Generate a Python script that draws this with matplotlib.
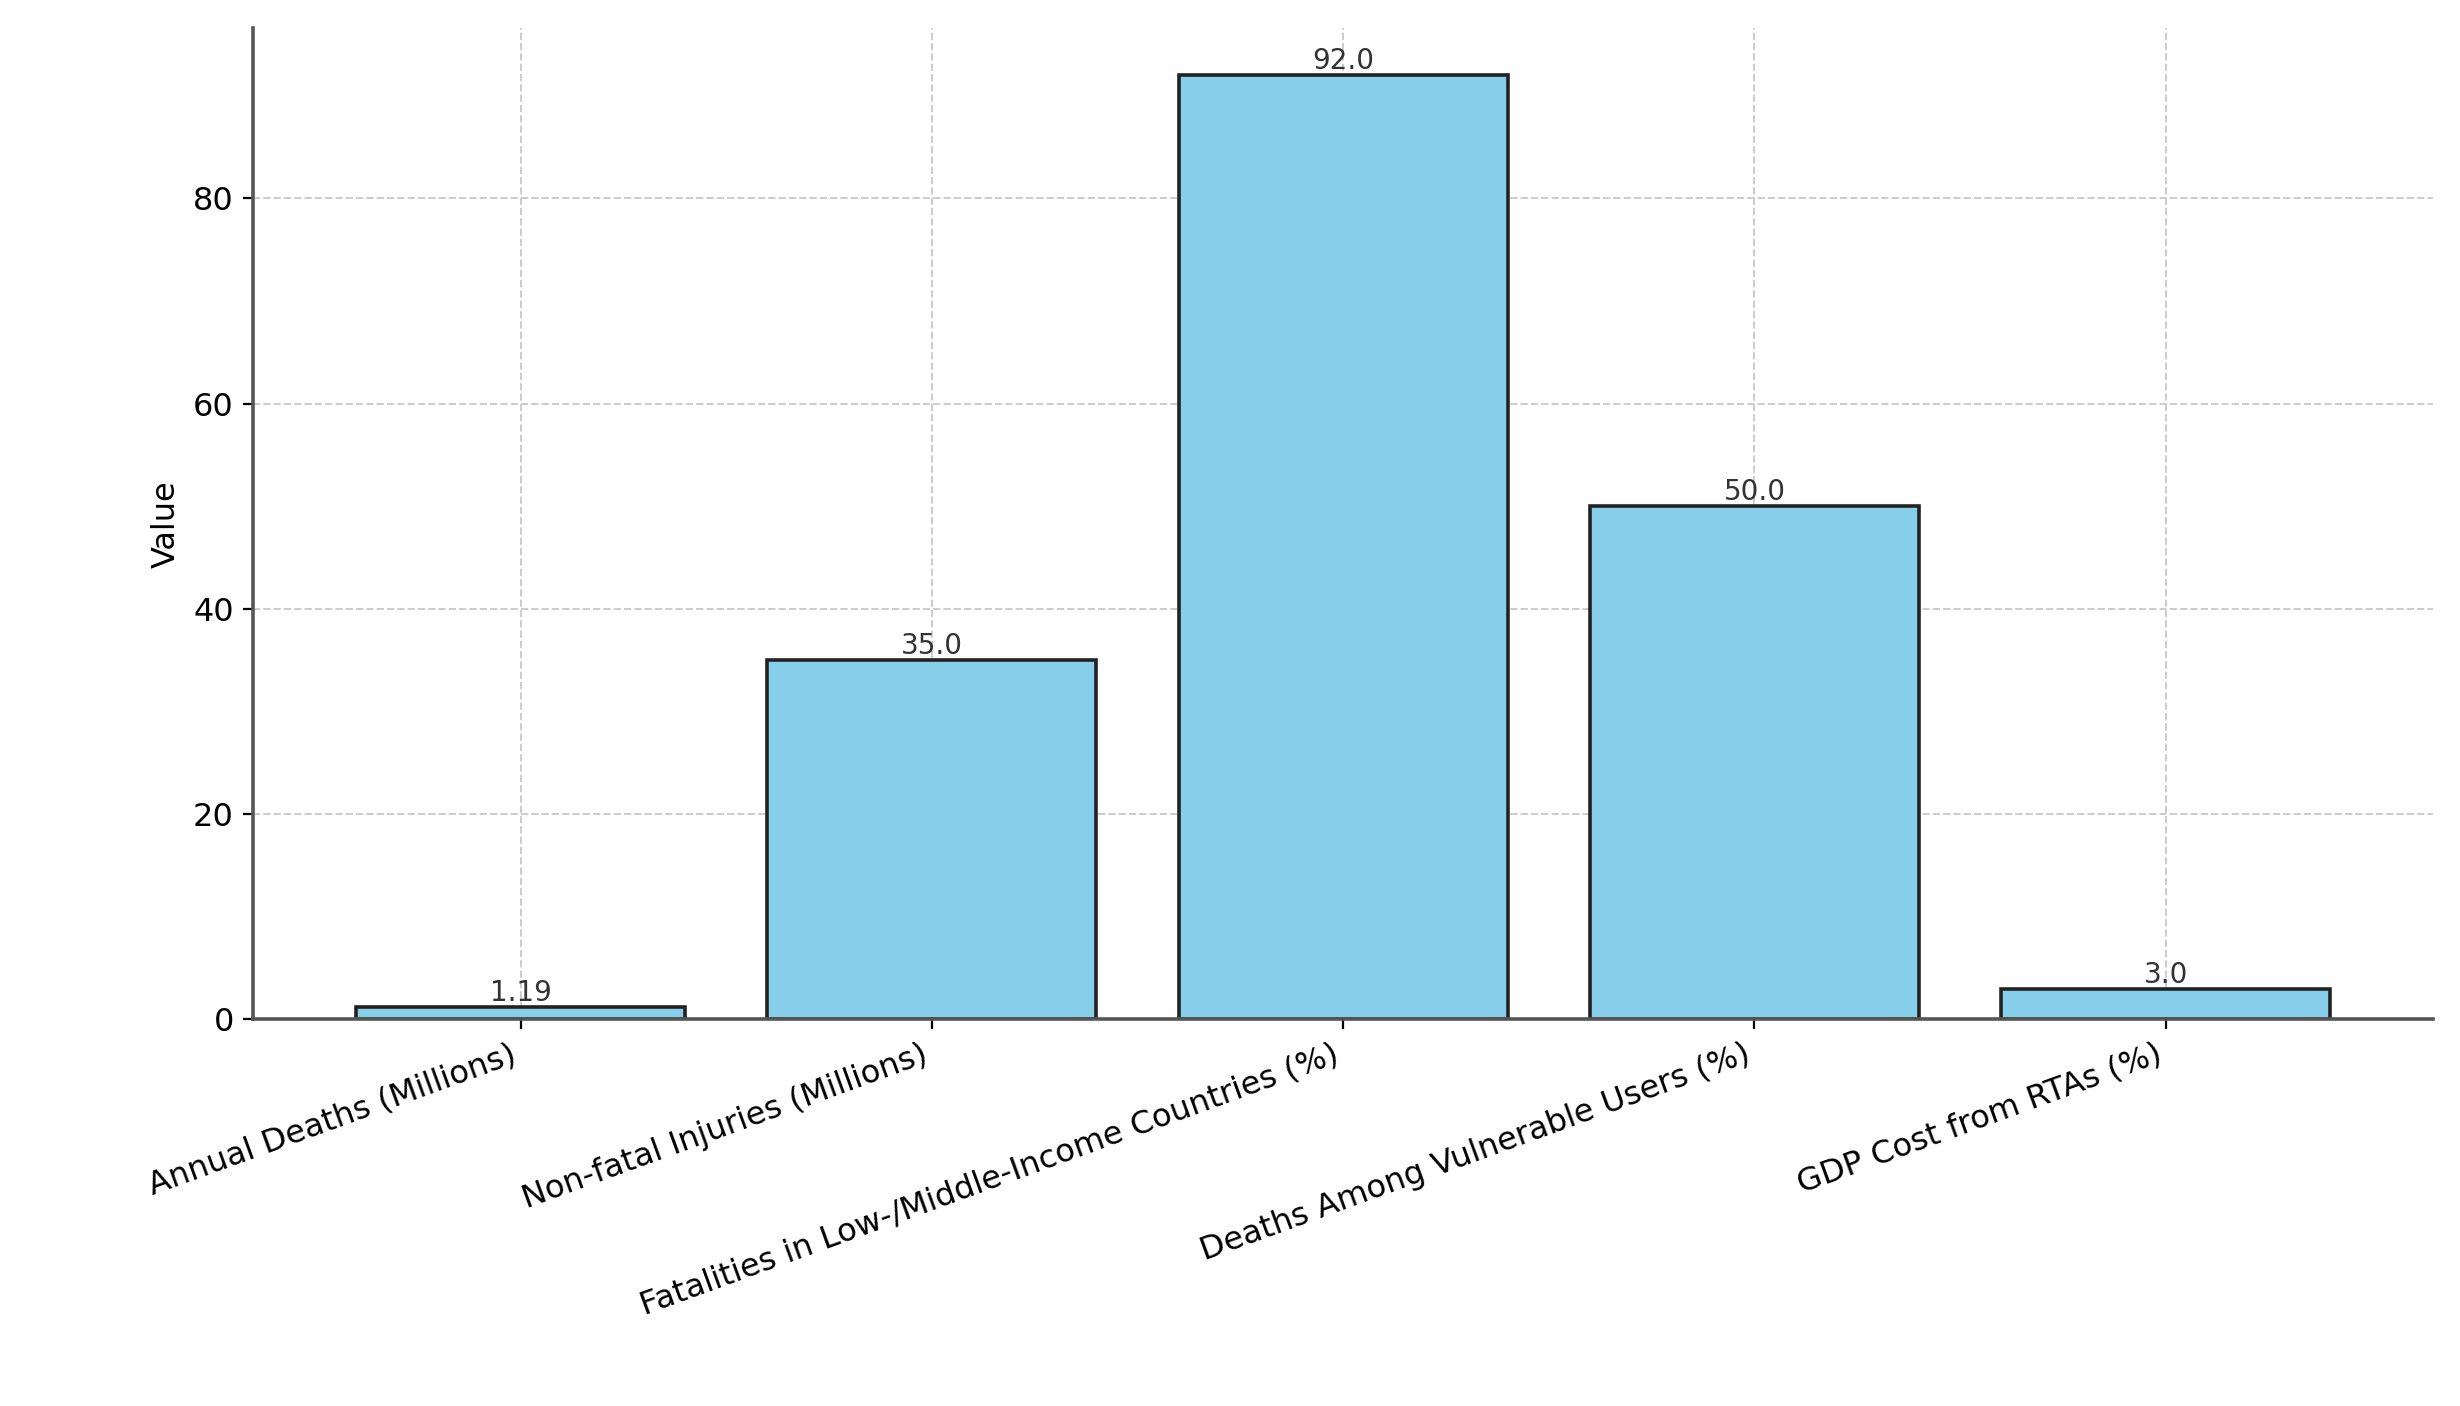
import matplotlib
matplotlib.use("Agg")
import matplotlib.pyplot as plt

categories = ["Annual Deaths (Millions)", "Non-fatal Injuries (Millions)",
              "Fatalities in Low-/Middle-Income Countries (%)",
              "Deaths Among Vulnerable Users (%)", "GDP Cost from RTAs (%)"]
values = [1.19, 35.0, 92.0, 50.0, 3.0]
labels = ["1.19", "35.0", "92.0", "50.0", "3.0"]

fig = plt.figure(figsize=(12.3, 7.03), dpi=200)
ax = fig.add_axes([0.103, 0.275, 0.886, 0.705])
bars = ax.bar(range(len(values)), values, width=0.8, color="#87CEEB",
              edgecolor="#222222", linewidth=1.3, zorder=2)
for b, t in zip(bars, labels):
    ax.text(b.get_x() + b.get_width()/2, b.get_height(), t, ha="center",
            va="bottom", fontsize=10, color="#333333")
ax.set_xlim(-0.65, 4.65)
ax.set_ylim(0, 96.6)
ax.set_yticks([0, 20, 40, 60, 80])
ax.set_xticks(range(len(values)))
ax.set_xticklabels(categories, rotation=20, ha="right", fontsize=11.5)
ax.tick_params(axis="y", labelsize=11.5)
ax.set_ylabel("Value", fontsize=11.5)
ax.grid(True, linestyle="--", color="#cccccc", linewidth=0.7, zorder=0)
ax.set_axisbelow(True)
for s in ["top", "right"]:
    ax.spines[s].set_visible(False)
for s in ["left", "bottom"]:
    ax.spines[s].set_color("#555555")
    ax.spines[s].set_linewidth(1.3)
fig.savefig("out.png", dpi=200)
